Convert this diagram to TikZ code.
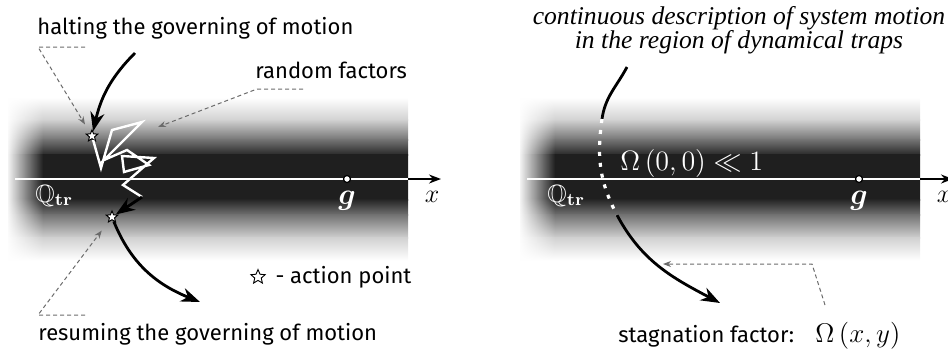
\RequirePackage{fix-cm}
\documentclass[tikz,border=0pt]{standalone}
\usepackage[no-math]{fontspec}
\usepackage{amsmath,amssymb}
\usetikzlibrary{positioning,arrows.meta,shapes.geometric,fadings}
\newfontfamily\labelfont{Fira Sans}
\newfontfamily\notefont{Liberation Serif}

\tikzfading[name=fade right, left color=transparent!0, right color=transparent!100]

\tikzset{
    motion/.style={
        line width=1.4pt,
        -{Stealth[length=9.5pt, width=7pt, inset=3pt]}
    },
    leader/.style={
        draw=black!58, line width=0.5pt,
        dash pattern=on 2pt off 1.5pt,
        -{Stealth[length=4pt, width=3pt]}
    },
    walk/.style={
        white, line width=1.2pt, line join=miter
    },
    actpoint/.style={
        star, star points=5, star point ratio=2.2,
        draw, fill=white, line width=0.5pt,
        inner sep=0pt, minimum size=6pt
    },
    gpoint/.style={
        circle, draw, fill=white, line width=0.6pt,
        inner sep=0pt, minimum size=3.5pt
    },
    sidelabel/.style={
        font=\labelfont\fontsize{11}{13}\selectfont
    }
}

\begin{document}
\begin{tikzpicture}[x=0.5pt, y=0.5pt]
    \useasboundingbox (0,0) rectangle (948,350);
    % Trap bands with axis, goal point and labels (both panels)
    \foreach \dx in {0,512} {
        \foreach \ya/\yb/\ca/\cb in {252/230/white/black!18, 230/210/black!18/black!55,
                210/195/black!55/black!85, 195/150/black!88/black!88,
                150/135/black!85/black!55, 135/112/black!55/black!18,
                112/90/black!18/white} {
            \shade[top color=\ca, bottom color=\cb] (8+\dx,\yb-0.3) rectangle (408+\dx,\ya+0.3);
        }
        \fill[white, path fading=fade right] (6+\dx,88) rectangle (43+\dx,254);
        \coordinate (ax\dx) at (15+\dx,171);
        \coordinate (bandend\dx) at (408+\dx,171);
        \coordinate (axtip\dx) at (441+\dx,171);
        \draw[white, line width=0.8pt] (ax\dx) -- (bandend\dx);
        \draw[line width=0.8pt, -{Stealth[length=6pt, width=4.5pt]}] (bandend\dx) -- (axtip\dx);
        \node[gpoint] (g\dx) at (347+\dx,171) {};
        \node[anchor=base, inner sep=0pt, text=white, font=\fontsize{15}{15}\selectfont]
            (glabel\dx) at (347+\dx,146) {$\boldsymbol{g}$};
        \node[anchor=base, inner sep=0pt, font=\fontsize{13}{13}\selectfont]
            (xlabel\dx) at (432+\dx,148) {$x$};
        \node[anchor=base west, inner sep=0pt, text=white, font=\fontsize{12.5}{12.5}\selectfont]
            (qtr\dx) at (35+\dx,148) {$\mathbb{Q}_{\mathbf{tr}}$};
    }

    % Left panel: random factors between two action points
    \node[actpoint] (star1) at (92,214) {};
    \node[actpoint] (star2) at (112,133) {};
    \coordinate (haltfrom) at (135,297);
    \coordinate (resumeto) at (200,48);
    \draw[motion] (haltfrom) to[out=-135, in=77] (star1);
    \draw[walk] (star1) -- (101,182) -- (112,220) -- (142,228) -- (104,190)
        -- (127,200) -- (149,185) -- (124,178) -- (122,194) -- (154,192)
        -- (123,165) -- (142,153) coordinate (walkend);
    \draw[motion] (walkend) -- (star2);
    \draw[motion] (star2) to[out=-68, in=158] (resumeto);

    \node[sidelabel, anchor=base west, inner sep=0pt] (halt) at (37,316) {halting the governing of motion};
    \node[sidelabel, anchor=base west, inner sep=0pt] (randf) at (255,272) {random factors};
    \node[sidelabel, anchor=base west, inner sep=0pt] (resume) at (38,10) {resuming the governing of motion};
    \node[actpoint, minimum size=7.5pt, line width=0.45pt] (legstar) at (258,73) {};
    \node[sidelabel, inner sep=0pt, right=6pt of legstar] (legtext) {- action point};

    \coordinate (haltnote) at (85,303);
    \coordinate (haltbend) at (38,303);
    \coordinate (randnote) at (303,261);
    \coordinate (randbend) at (257,261);
    \coordinate (randtip) at (158,223);
    \coordinate (resnote) at (85,35);
    \coordinate (resbend) at (38,35);
    \draw[leader, shorten >=5pt] (haltnote) -- (haltbend) -- (star1);
    \draw[leader] (randnote) -- (randbend) -- (randtip);
    \draw[leader, shorten >=5pt] (resnote) -- (resbend) -- (star2);

    % Right panel: continuous description
    \node[align=center, font=\notefont\itshape\fontsize{12.8}{11.9}\selectfont]
        (desc) at (739,320) {continuous description of system motion\\in the region of dynamical traps};
    \node[anchor=base west, inner sep=0pt, text=white, font=\fontsize{14}{15}\selectfont]
        (omega00) at (620,180) {$\Omega\left(0,0\right)\ll 1$};
    \coordinate (descfrom) at (627,283);
    \coordinate (dotin) at (602,231);
    \coordinate (dotout) at (617,135);
    \coordinate (stagto) at (720,47);
    \draw[line width=1.4pt] (descfrom) to[out=-118, in=82] (dotin);
    \draw[white, line width=1.6pt, dash pattern=on 2pt off 3.5pt] (dotin) to[out=-98, in=118] (dotout);
    \draw[motion] (dotout) to[out=-62, in=152] (stagto);

    \node[sidelabel, anchor=base west, inner sep=0pt] (stag) at (618,8) {stagnation factor:};
    \node[anchor=base west, inner sep=0pt, font=\fontsize{13.5}{15}\selectfont]
        (stagomega) at (815,8) {$\Omega\left(x,y\right)$};
    \coordinate (stagnote) at (825,45);
    \coordinate (stagbend) at (812,86);
    \coordinate (stagtip) at (663,86);
    \draw[leader] (stagnote) -- (stagbend) -- (stagtip);
\end{tikzpicture}
\end{document}
